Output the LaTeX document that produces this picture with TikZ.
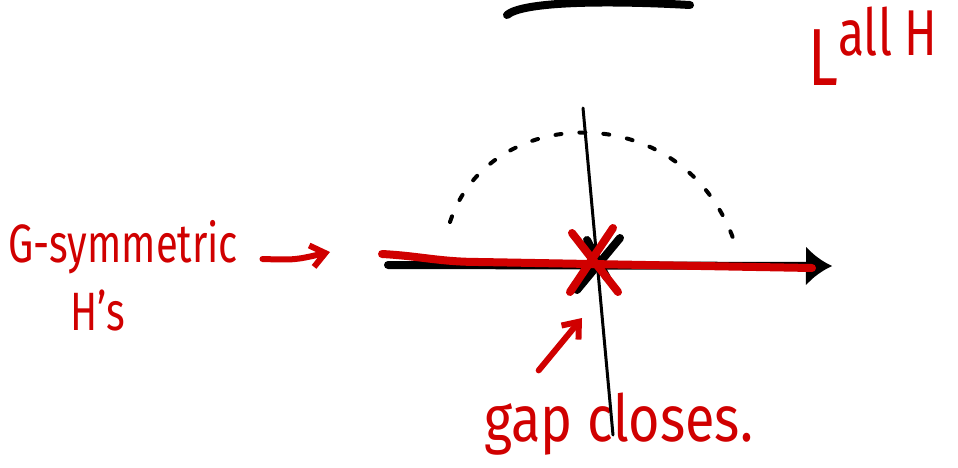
\documentclass[tikz,border=0pt]{standalone}
\usepackage{fontspec}
\setmainfont{Fira Sans}
\usepackage{xcolor}
\usepackage{graphicx}
\usepackage{tikz}
\usetikzlibrary{arrows.meta,positioning,calc}

\definecolor{pen}{RGB}{208,0,0}
\newcommand{\tall}[1]{\scalebox{1}[1.35]{#1}}

\begin{document}
\begin{tikzpicture}[x=0.5pt, y=-0.5pt,
  ink/.style={draw=black, line width=4pt, line cap=round},
  thin ink/.style={draw=black, line width=1.5pt, line cap=round},
  red ink/.style={draw=pen, line width=4pt, line cap=round},
  dots/.style={draw=black, line width=2pt, line cap=round, dash pattern=on 3pt off 9pt},
  note/.style={text=pen, inner sep=0pt, font=\fontsize{20}{24}\selectfont},
  pointer/.style={draw=pen, line width=3pt, line cap=round, -{Straight Barb[length=7pt, width=11pt, line width=3pt]}}]
  \useasboundingbox (0,0) rectangle (958,467);

  % labels
  \node [note, anchor=west] (gsym) at (8,247) {\tall{G-symmetric}};
  \node [note, anchor=west] (hs) at (70,310) {\tall{H's}};
  \node [note, anchor=west, font=\fontsize{27}{30}\selectfont] (gap) at (484,424) {\scalebox{1}[1.2]{gap closes.}};
  \node [note, anchor=south west, font=\fontsize{30}{32}\selectfont] (allh) at (808,86)
    {\tall{L\raisebox{11pt}{\fontsize{24}{26}\selectfont all H}}};

  % axis and arc
  \coordinate (axl) at (388,265);
  \coordinate (axr) at (832,266);
  \coordinate (vtop) at (583,108);
  \coordinate (vbot) at (613,435);
  \coordinate (arcl) at (450,222);
  \coordinate (arcr) at (733,238);
  \coordinate (cross) at (594,262);

  \draw [ink] (507,15) .. controls (522,2) and (600,0) .. (690,5);
  \draw [thin ink] (vtop) .. controls (596,250) .. (vbot);
  \draw [dots] (arcl) .. controls (488,104) and (680,96) .. (arcr);
  \draw [ink, -{Latex[length=13pt, width=20pt]}] (axl) -- (axr);
  \draw [ink] ($(cross)+(26,-24)$) -- ($(cross)+(-17,28)$);
  \draw [ink] ($(cross)+(-7,-22)$) -- ($(cross)+(13,16)$);
  \draw [red ink] (382,254) .. controls (420,256) and (440,262) .. (480,262) -- (812,268);
  \draw [red ink] ($(cross)+(-22,-29)$) -- ($(cross)+(24,30)$);
  \draw [red ink] ($(cross)+(19,-34)$) -- ($(cross)+(-24,30)$);

  % pointers
  \coordinate (hit) at (330,252);
  \coordinate (under) at (582,318);
  \path [pointer] ($(gsym.east)+(24,12)$) .. controls (295,260) .. (hit);
  \path [pointer] (gap.north) ++(-80,-22) -- (under);
\end{tikzpicture}
\end{document}
